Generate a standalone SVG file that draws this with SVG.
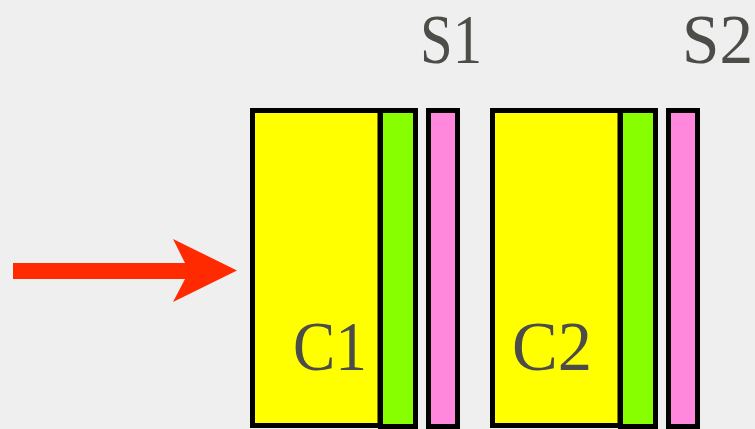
<svg xmlns="http://www.w3.org/2000/svg" width="755" height="429" viewBox="0 0 755 429">
<style>
.box{stroke:#000;stroke-width:5}
.y{fill:#ffff00}
.g{fill:#88ff00}
.p{fill:#ff88dd}
.lbl{font-family:"Liberation Serif",serif;font-size:70px;fill:#4c4c48}
</style>
<rect width="755" height="429" fill="#efefef"/>
<g id="S1label"><text class="lbl" x="420" y="63" textLength="62" lengthAdjust="spacingAndGlyphs">S1</text></g>
<g id="S2label"><text class="lbl" x="682" y="63" textLength="71" lengthAdjust="spacingAndGlyphs">S2</text></g>
<g id="C1">
<rect class="box y" x="252.5" y="110.5" width="127.5" height="315"/>
<rect class="box g" x="380.5" y="110.5" width="35" height="316"/>
<text class="lbl" x="293" y="370" textLength="74" lengthAdjust="spacingAndGlyphs">C1</text>
</g>
<g id="S1">
<rect class="box p" x="428.5" y="110.5" width="29" height="316"/>
</g>
<g id="C2">
<rect class="box y" x="492.5" y="110.5" width="127.5" height="315"/>
<rect class="box g" x="620.5" y="110.5" width="35" height="316"/>
<text class="lbl" x="512" y="370" textLength="80" lengthAdjust="spacingAndGlyphs">C2</text>
</g>
<g id="S2">
<rect class="box p" x="668.5" y="110.5" width="29" height="316"/>
</g>
<g id="connectors">
<path d="M13 263 H185 L173 239 L237 270.5 L173 302 L185 279 H13 Z" fill="#ff2a00"/>
</g>
</svg>
